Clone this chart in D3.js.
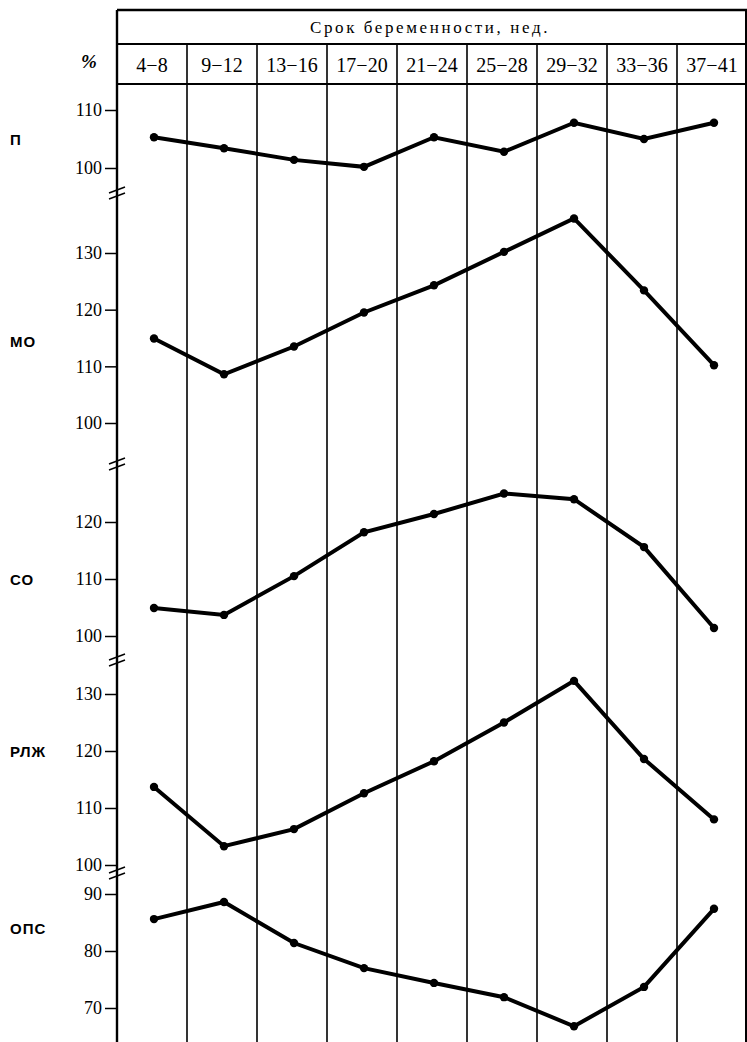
<!DOCTYPE html>
<html><head><meta charset="utf-8">
<script src="https://cdn.jsdelivr.net/npm/d3@7"></script>
<style>body{margin:0;background:#fff}svg{display:block}</style>
</head><body>
<svg id="c" width="747" height="1042"></svg>
<script>
const categories = ["4\u22128","9\u221212","13\u221216","17\u221220","21\u221224","25\u221228","29\u221232","33\u221236","37\u221241"];
const headerTitle = "Срок беременности, нед.";
const seriesNames = ["П","МО","СО","РЛЖ","ОПС"];
const valuesP   = [105.3,103.4,101.4,100.2,105.3,102.8,107.8,105.0,107.8];
const valuesMO  = [114.9,108.6,113.5,119.5,124.3,130.2,136.1,123.4,110.2];
const valuesCO  = [104.9,103.7,110.5,118.2,121.4,125.0,124.0,115.6,101.4];
const valuesRLZ = [113.7,103.3,106.3,112.6,118.2,125.0,132.3,118.6,108.0];
const valuesOPS = [85.6,88.6,81.4,77.0,74.4,71.9,66.8,73.7,87.4];
const ticksP   = [100,110];
const ticksMO  = [100,110,120,130];
const ticksCO  = [100,110,120];
const ticksRLZ = [100,110,120,130];
const ticksOPS = [70,80,90];
const labelValues = [105,114.5,110,120,84];

const svg = d3.select("#c");
const left = 117, right = 747;
const x = d3.scaleBand().domain(categories).range([left, right]);

const panels = [
  {name:seriesNames[0], vals:valuesP,   ticks:ticksP,   y:d3.scaleLinear().domain([100,110]).range([168,110]), brk:193},
  {name:seriesNames[1], vals:valuesMO,  ticks:ticksMO,  y:d3.scaleLinear().domain([100,130]).range([423,253]), brk:464},
  {name:seriesNames[2], vals:valuesCO,  ticks:ticksCO,  y:d3.scaleLinear().domain([100,120]).range([636,522]), brk:660},
  {name:seriesNames[3], vals:valuesRLZ, ticks:ticksRLZ, y:d3.scaleLinear().domain([100,130]).range([865,694]), brk:873},
  {name:seriesNames[4], vals:valuesOPS, ticks:ticksOPS, y:d3.scaleLinear().domain([70,90]).range([1008,894]), brk:null}
];
panels.forEach((p,i)=>p.label=labelValues[i]);

const serif = "'Liberation Serif','DejaVu Serif',serif";
const sans = "'Liberation Sans','DejaVu Sans',sans-serif";

// header table
svg.append("line").attr("x1",left).attr("x2",right).attr("y1",10).attr("y2",10).attr("stroke","#000").attr("stroke-width",2.4);
svg.append("line").attr("x1",left).attr("x2",right).attr("y1",44).attr("y2",44).attr("stroke","#000").attr("stroke-width",2);
svg.append("line").attr("x1",left).attr("x2",right).attr("y1",84).attr("y2",84).attr("stroke","#000").attr("stroke-width",2);
svg.append("text").attr("x",(left+right)/2 - 2).attr("y",33).attr("text-anchor","middle")
  .attr("font-family",serif).attr("font-size",17).attr("letter-spacing",2.6).attr("fill","#000").text(headerTitle);

// vertical grid lines
const bounds = categories.slice(1).map(c=>x(c));
svg.selectAll(".vl").data(bounds).join("line")
  .attr("x1",d=>d).attr("x2",d=>d).attr("y1",44).attr("y2",1042)
  .attr("stroke","#000").attr("stroke-width",1.6);
svg.append("line").attr("x1",right-1).attr("x2",right-1).attr("y1",10).attr("y2",1042).attr("stroke","#000").attr("stroke-width",2);
// left axis line
svg.append("line").attr("x1",left).attr("x2",left).attr("y1",10).attr("y2",1042).attr("stroke","#000").attr("stroke-width",2.4);

// column labels
svg.selectAll(".cl").data(categories).join("text")
  .attr("x",d=>x(d)+x.bandwidth()/2).attr("y",72).attr("text-anchor","middle")
  .attr("font-family",serif).attr("font-size",20).attr("fill","#000").text(d=>d);

svg.append("text").attr("x",89).attr("y",68).attr("text-anchor","middle")
  .attr("font-family",serif).attr("font-size",19).attr("font-weight","bold").attr("font-style","italic").attr("fill","#000").text("%");

const line = d3.line();
panels.forEach(p=>{
  const g = svg.append("g");
  const ax = d3.axisLeft(p.y).tickValues(p.ticks).tickSize(12).tickPadding(3).tickFormat(d3.format("d"));
  const ga = svg.append("g").attr("transform",`translate(${left},0)`).call(ax);
  ga.select(".domain").remove();
  ga.selectAll(".tick line").attr("stroke","#000").attr("stroke-width",1.5);
  ga.selectAll(".tick text").attr("font-family",serif).attr("font-size",18).attr("fill","#000");
  // series
  const pts = p.vals.map((v,i)=>[x(categories[i])+x.bandwidth()/2+2, p.y(v)]);
  g.append("path").attr("d",line(pts)).attr("fill","none").attr("stroke","#000")
    .attr("stroke-width",4).attr("stroke-linejoin","miter");
  g.selectAll("circle").data(pts).join("circle").attr("cx",d=>d[0]).attr("cy",d=>d[1]).attr("r",4.2).attr("fill","#000");
  // series label
  svg.append("text").attr("x",10).attr("y",p.y(p.label)+6).attr("font-family",sans)
    .attr("font-size",15).attr("font-weight","bold").attr("letter-spacing",1).attr("fill","#000").text(p.name);
  // break mark
  if(p.brk!==null){
    const b = p.brk;
    [-3,3].forEach(o=>{
      svg.append("line").attr("x1",left-8).attr("x2",left+8).attr("y1",b+o+3).attr("y2",b+o-3)
        .attr("stroke","#000").attr("stroke-width",1.4);
    });
  }
});
</script>
</body></html>
